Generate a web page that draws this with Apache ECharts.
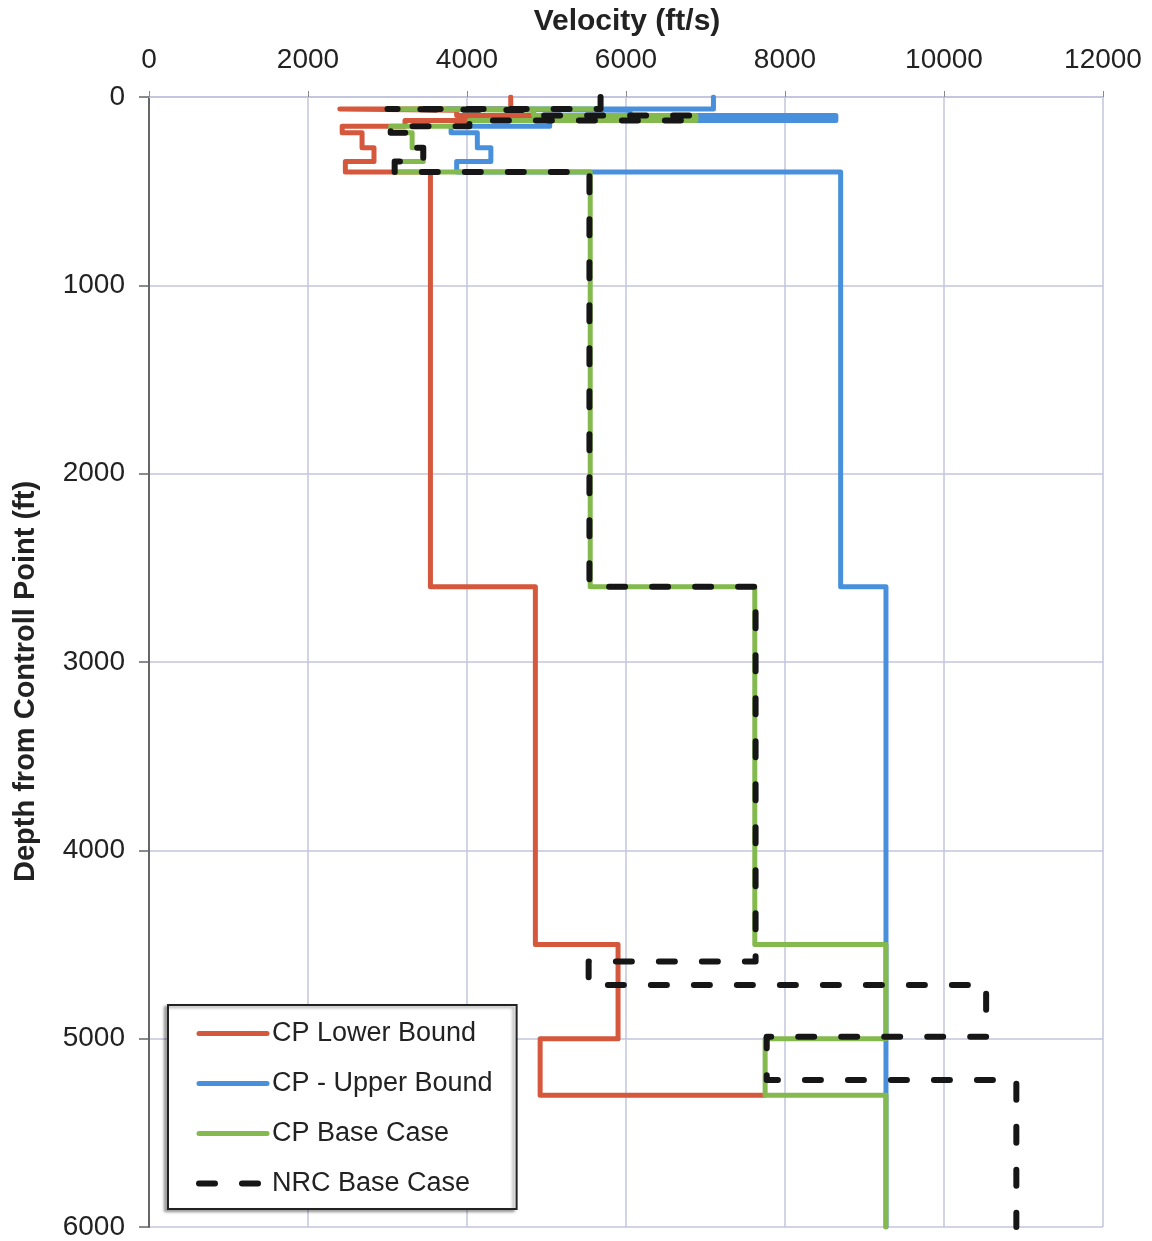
<!DOCTYPE html>
<html>
<head>
<meta charset="utf-8">
<script src="https://cdn.jsdelivr.net/npm/echarts@6/dist/echarts.min.js"></script>
<style>
html,body{margin:0;padding:0;background:#fff;}
#chart{width:1152px;height:1241px;}
</style>
</head>
<body>
<div id="chart"></div>
<script>
// Layer boundaries (depth, ft) shared by the CP profiles
const depthBounds = [0, 64, 70, 98, 125, 155, 190, 270, 342, 398, 2600, 4500, 5000, 5300, 6000];
// CP Lower Bound velocities per layer (ft/s) – ends at 5300 ft
const lowerVel = [4550, 2400, 3870, 5475, 3220, 2430, 2680, 2830, 2470, 3540, 4860, 5900, 4920];
const lowerEndVel = 7740;
// CP - Upper Bound velocities per layer
const upperVel = [7100, 3750, 6050, 8640, 5040, 3800, 4130, 4300, 3870, 8700, 9270, 9270, 9270, 9270];
// CP Base Case velocities per layer
const baseVel = [5680, 3000, 4840, 6880, 4030, 3040, 3310, 3450, 3090, 5550, 7620, 9270, 7750, 9270];
// NRC Base Case
const nrcDepths = [0, 64, 70, 98, 125, 155, 190, 270, 342, 398, 2600, 4590, 4715, 4990, 5220, 6000];
const nrcVel = [5680, 3000, 4840, 6880, 4030, 3040, 3310, 3450, 3090, 5540, 7630, 5530, 10530, 7770, 10910];

const seriesNames = ['CP Lower Bound', 'CP - Upper Bound', 'CP Base Case', 'NRC Base Case'];
const seriesColors = ['#d5573c', '#4890db', '#84b94e', '#161616'];
const xTicks = [0, 2000, 4000, 6000, 8000, 10000, 12000];
const yTicks = [0, 1000, 2000, 3000, 4000, 5000, 6000];

function steps(vels, bounds) {
  const pts = [];
  for (let i = 0; i < vels.length; i++) {
    pts.push([vels[i], bounds[i]]);
    pts.push([vels[i], bounds[i + 1]]);
  }
  return pts;
}
const lowerData = steps(lowerVel, depthBounds);
lowerData.push([lowerEndVel, depthBounds[lowerVel.length]]);
const upperData = steps(upperVel, depthBounds);
const baseData = steps(baseVel, depthBounds);
const nrcData = steps(nrcVel, nrcDepths);

const axisFont = "'Liberation Sans', Arial, sans-serif";
const gridColor = '#c3c6de';
const dashPattern = [16, 27];

const chart = echarts.init(document.getElementById('chart'), null, {renderer: 'canvas'});
chart.setOption({
  animation: false,
  backgroundColor: '#ffffff',
  grid: {left: 149, right: 49, top: 97, bottom: 14, containLabel: false},
  xAxis: {
    type: 'value', position: 'top', min: xTicks[0], max: xTicks[xTicks.length - 1], interval: 2000,
    axisLine: {show: true, lineStyle: {color: gridColor, width: 2}},
    axisTick: {show: true, length: 6, lineStyle: {color: '#888'}},
    axisLabel: {margin: 23, fontFamily: axisFont, fontSize: 28, color: '#222', formatter: v => String(v)},
    splitLine: {show: true, lineStyle: {color: gridColor, width: 1.5}}
  },
  yAxis: {
    type: 'value', inverse: true, min: yTicks[0], max: yTicks[yTicks.length - 1], interval: 1000,
    axisLine: {show: true, lineStyle: {color: '#666', width: 2}},
    axisTick: {show: true, length: 10, lineStyle: {color: '#666', width: 1.5}},
    axisLabel: {margin: 24, fontFamily: axisFont, fontSize: 28, color: '#222', formatter: v => String(v)},
    splitLine: {show: true, lineStyle: {color: gridColor, width: 1.5}}
  },
  legend: {
    orient: 'vertical', left: 168, top: 1005,
    data: seriesNames.map((n, i) => ({
      name: n,
      itemStyle: {opacity: 0},
      lineStyle: i === 3 ? {color: seriesColors[i], width: 6, type: dashPattern, cap: 'round'} : {color: seriesColors[i], width: 5, cap: 'round'}
    })),
    backgroundColor: '#ffffff', borderColor: '#222', borderWidth: 2, borderRadius: 0,
    padding: [15, 24, 12, 28],
    itemWidth: 68, itemHeight: 24, itemGap: 23,
    textStyle: {fontFamily: axisFont, fontSize: 27, color: '#222'},
    shadowColor: 'rgba(0,0,0,0.35)', shadowBlur: 3, shadowOffsetX: -3, shadowOffsetY: 2
  },
  graphic: [
    {type: 'text', x: 627, y: 7, style: {text: 'Velocity (ft/s)', fontFamily: axisFont, fontWeight: 'bold', fontSize: 30, fill: '#222', textAlign: 'center', textVerticalAlign: 'top'}},
    {type: 'text', x: 11, y: 882, rotation: Math.PI / 2, style: {text: 'Depth from Controll Point (ft)', fontFamily: axisFont, fontWeight: 'bold', fontSize: 29, fill: '#222', textAlign: 'left', textVerticalAlign: 'top'}}
  ],
  series: [
    {name: seriesNames[0], type: 'line', data: lowerData, symbol: 'none', lineStyle: {color: seriesColors[0], width: 5, cap: 'round', join: 'round'}, itemStyle: {color: seriesColors[0]}},
    {name: seriesNames[1], type: 'line', data: upperData, symbol: 'none', lineStyle: {color: seriesColors[1], width: 5, cap: 'round', join: 'round'}, itemStyle: {color: seriesColors[1]}},
    {name: seriesNames[2], type: 'line', data: baseData, symbol: 'none', lineStyle: {color: seriesColors[2], width: 5, cap: 'round', join: 'round'}, itemStyle: {color: seriesColors[2]}},
    {name: seriesNames[3], type: 'line', data: nrcData, symbol: 'none', lineStyle: {color: seriesColors[3], width: 6, type: dashPattern, cap: 'round', join: 'round'}, itemStyle: {color: seriesColors[3]}}
  ]
});
</script>
</body>
</html>
